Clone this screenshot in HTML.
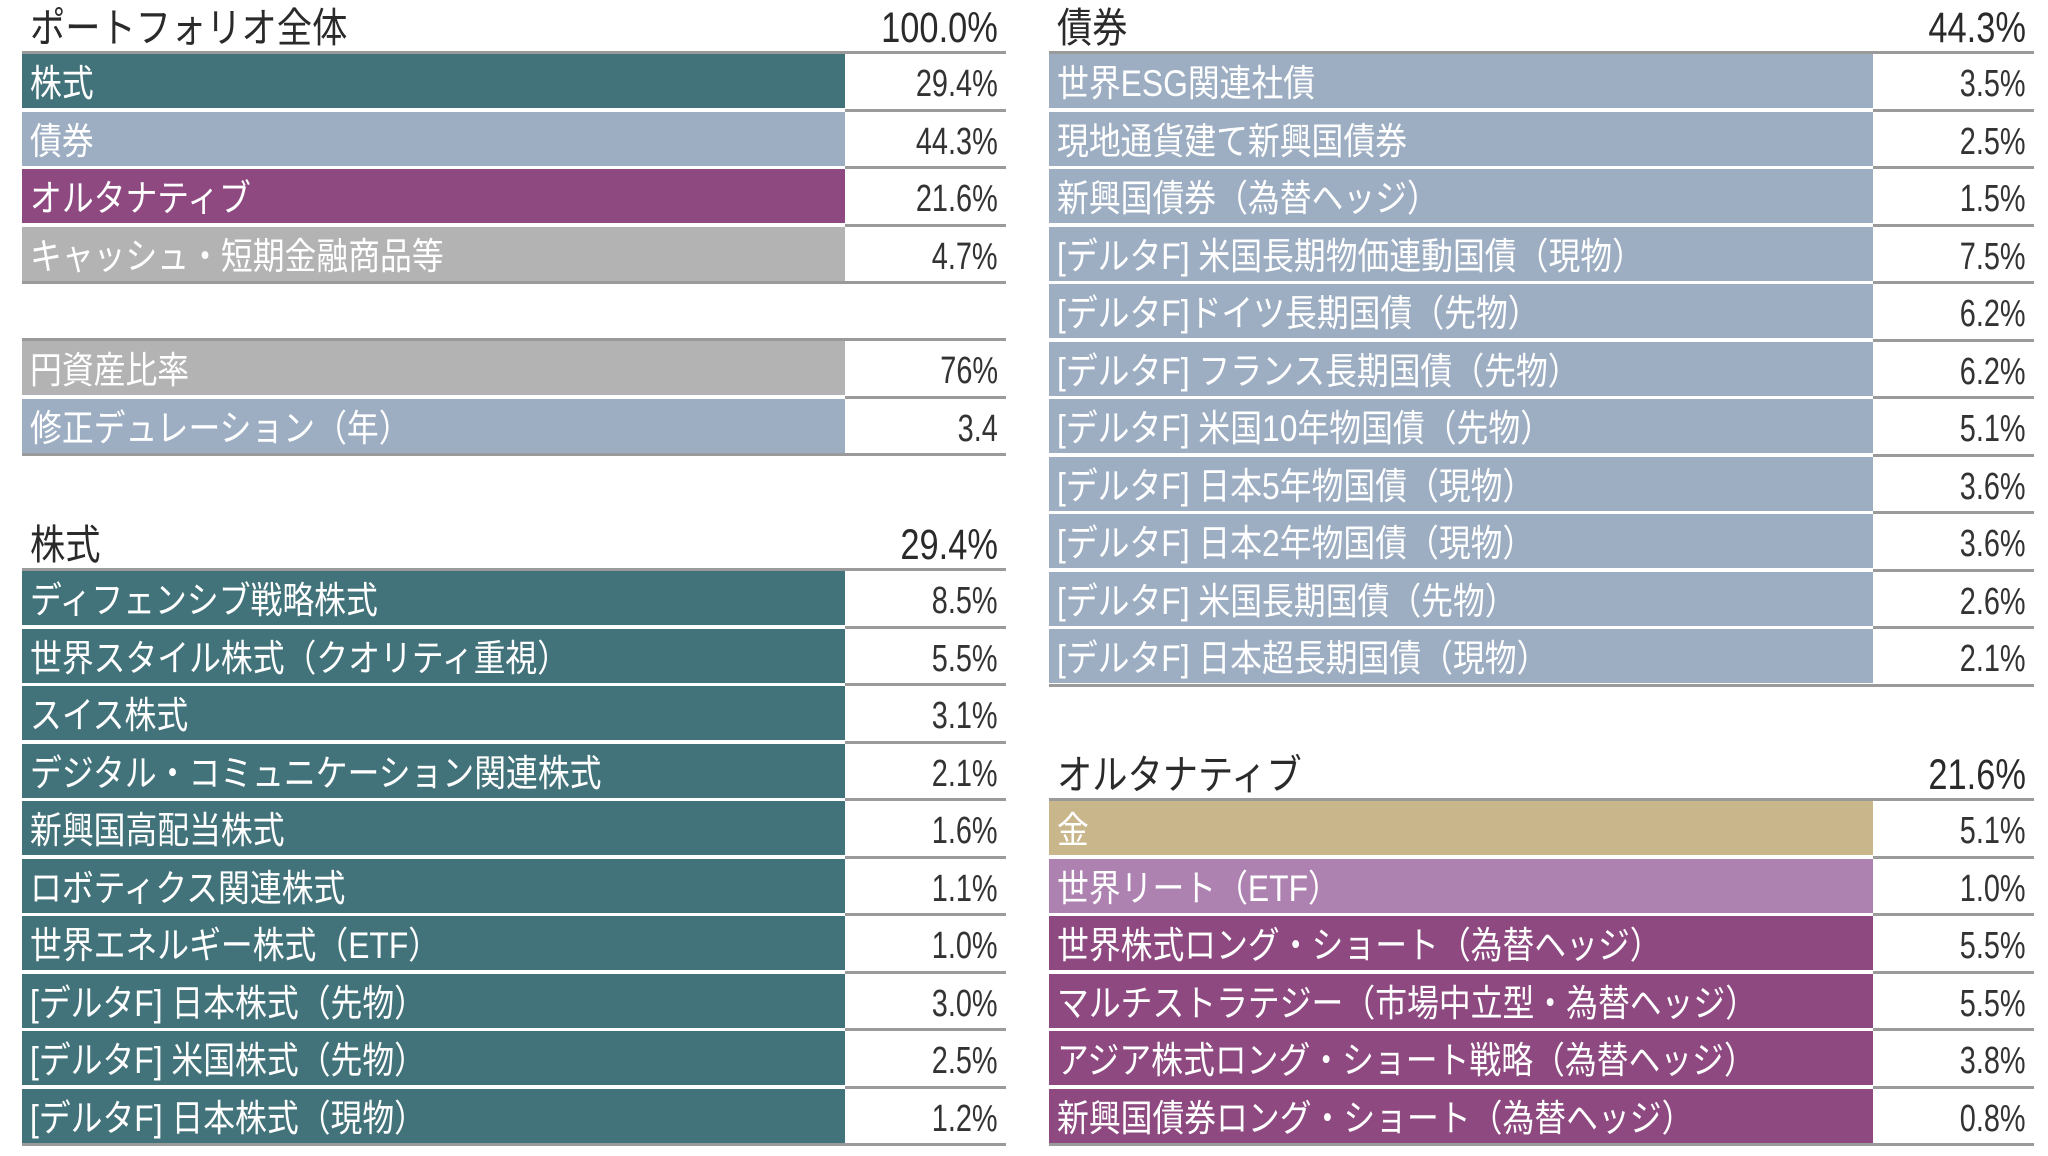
<!DOCTYPE html>
<html><head><meta charset="utf-8">
<style>
html,body{margin:0;padding:0;background:#fff;}
#root{position:relative;width:2048px;height:1156px;overflow:hidden;background:#fff;font-family:"Liberation Sans","Noto Sans CJK JP",sans-serif;}
.hdr{position:absolute;height:50px;font-size:41px;color:#2a2a2a;line-height:50px;}
.hdr .v{position:absolute;right:8px;top:2px;font-family:"Liberation Sans",sans-serif;display:inline-block;transform:scaleX(0.8);transform-origin:right center;font-size:43px;}
.hdr .t{position:absolute;left:8px;top:2px;display:inline-block;transform:scaleX(0.86);transform-origin:left center;}
.line{position:absolute;height:3px;background:#9a9a9a;}
.cell{position:absolute;color:#fff;font-size:37px;line-height:60px;padding-left:8px;box-sizing:border-box;white-space:nowrap;overflow:hidden;}
.cell span{display:inline-block;transform:scaleX(0.86);transform-origin:left center;}
.val{position:absolute;color:#333;font-size:38px;line-height:60px;text-align:right;padding-right:8px;box-sizing:border-box;font-family:"Liberation Sans",sans-serif;white-space:nowrap;}
.val span{display:inline-block;transform:scaleX(0.76);transform-origin:right center;}
</style></head>
<body>
<div id="root"></div>
<script>
const C={teal:'#43737a',blue:'#9daec3',purple:'#8e4a80',grey:'#b3b3b3',gold:'#c9b68b',lpurple:'#ae82b0'};
const overviewLabels=['株式','債券','オルタナティブ','キャッシュ・短期金融商品等'];
const overviewValues=['29.4%','44.3%','21.6%','4.7%'];
const overviewColors=['teal','blue','purple','grey'];
const ratioLabels=['円資産比率','修正デュレーション（年）'];
const ratioValues=['76%','3.4'];
const ratioColors=['grey','blue'];
const equityLabels=['ディフェンシブ戦略株式','世界スタイル株式（クオリティ重視）','スイス株式','デジタル・コミュニケーション関連株式','新興国高配当株式','ロボティクス関連株式','世界エネルギー株式（ETF）','[デルタF] 日本株式（先物）','[デルタF] 米国株式（先物）','[デルタF] 日本株式（現物）'];
const equityValues=['8.5%','5.5%','3.1%','2.1%','1.6%','1.1%','1.0%','3.0%','2.5%','1.2%'];
const bondLabels=['世界ESG関連社債','現地通貨建て新興国債券','新興国債券（為替ヘッジ）','[デルタF] 米国長期物価連動国債（現物）','[デルタF]ドイツ長期国債（先物）','[デルタF] フランス長期国債（先物）','[デルタF] 米国10年物国債（先物）','[デルタF] 日本5年物国債（現物）','[デルタF] 日本2年物国債（現物）','[デルタF] 米国長期国債（先物）','[デルタF] 日本超長期国債（現物）'];
const bondValues=['3.5%','2.5%','1.5%','7.5%','6.2%','6.2%','5.1%','3.6%','3.6%','2.6%','2.1%'];
const altLabels=['金','世界リート（ETF）','世界株式ロング・ショート（為替ヘッジ）','マルチストラテジー（市場中立型・為替ヘッジ）','アジア株式ロング・ショート戦略（為替ヘッジ）','新興国債券ロング・ショート（為替ヘッジ）'];
const altValues=['5.1%','1.0%','5.5%','5.5%','3.8%','0.8%'];
const altColors=['gold','lpurple','purple','purple','purple','purple'];

const root=document.getElementById('root');
const PITCH=57.5;
function mk(cls,style,text){const d=document.createElement('div');d.className=cls;Object.assign(d.style,style);if(text!==undefined){const s=document.createElement('span');s.textContent=text;d.appendChild(s);}root.appendChild(d);return d;}

function table(name,x0,x1,xs,lineY,title,total,labels,values,colors){
  if(title!==null){
    const h=mk('hdr',{left:x0+'px',width:(x1-x0)+'px',top:(lineY-50)+'px'});
    
    
    const t=document.createElement('span');t.className='t';t.textContent=title;h.appendChild(t);
    const v=document.createElement('span');v.className='v';v.textContent=total;h.appendChild(v);
  }
  for(let i=0;i<=labels.length;i++){
    const y=lineY+i*PITCH;
    const full=(i===0||i===labels.length);
    const ln=mk('line',{left:(full?x0:xs)+'px',width:(full?x1-x0:x1-xs)+'px',top:y+'px'});
    
    
  }
  labels.forEach((lab,i)=>{
    const y=lineY+i*PITCH+3;
    const c=mk('cell',{left:x0+'px',width:(xs-x0)+'px',top:y+'px',height:(PITCH-3.5)+'px',background:C[colors[i]]},lab);
    
    
    const v=mk('val',{left:xs+'px',width:(x1-xs)+'px',top:y+'px',height:(PITCH-3.5)+'px'},values[i]);
    
    
  });
}
table('overview',22,1006,845,51,'ポートフォリオ全体','100.0%',overviewLabels,overviewValues,overviewColors);
table('ratios',22,1006,845,338,null,null,ratioLabels,ratioValues,ratioColors);
table('equity',22,1006,845,568,'株式','29.4%',equityLabels,equityValues,equityLabels.map(()=> 'teal'));
table('bonds',1049,2034,1873,51,'債券','44.3%',bondLabels,bondValues,bondLabels.map(()=> 'blue'));
table('alternatives',1049,2034,1873,798,'オルタナティブ','21.6%',altLabels,altValues,altColors);
</script>
</body></html>
